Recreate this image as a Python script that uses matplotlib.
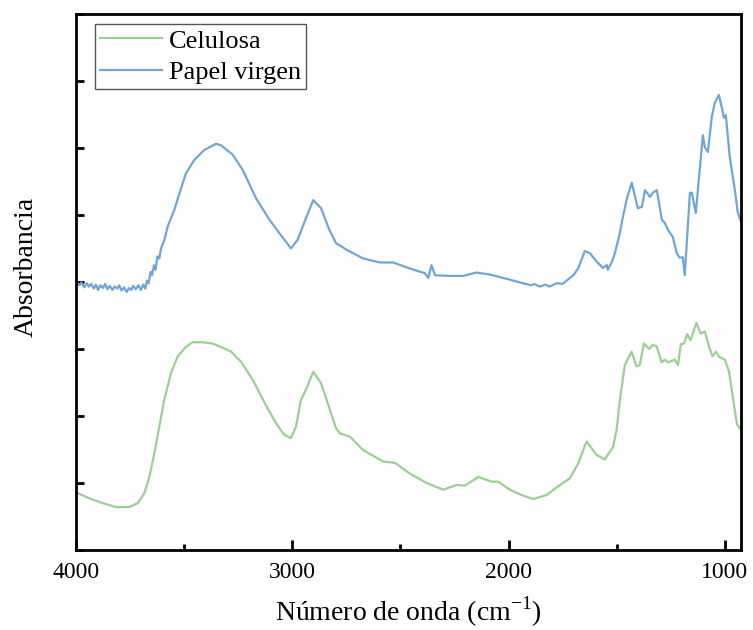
import matplotlib
matplotlib.use("Agg")
import matplotlib.pyplot as plt
from matplotlib.ticker import MultipleLocator

# FTIR spectra (wavenumber in cm^-1, absorbance in arbitrary offset units)
celulosa_wn = [4000, 3938, 3877, 3815, 3754, 3715, 3684, 3661, 3638, 3615, 3592,
               3561, 3530, 3492, 3461, 3414, 3368, 3330, 3283, 3237, 3183, 3122,
               3075, 3037, 3006, 2983, 2960, 2937, 2903, 2867, 2836, 2798, 2780,
               2733, 2672, 2579, 2525, 2456, 2379, 2302, 2240, 2202, 2140, 2078,
               2048, 1994, 1940, 1886, 1824, 1762, 1716, 1678, 1639, 1593, 1555,
               1516, 1500, 1485, 1462, 1431, 1408, 1393, 1374, 1349, 1334, 1315,
               1292, 1277, 1262, 1231, 1216, 1203, 1188, 1174, 1158, 1131, 1111,
               1092, 1072, 1057, 1041, 1026, 1000, 980, 961, 943, 925]
celulosa_abs = [0.86, 0.77, 0.70, 0.64, 0.64, 0.70, 0.85, 1.09, 1.44, 1.84, 2.24,
                2.64, 2.89, 3.03, 3.10, 3.10, 3.08, 3.03, 2.96, 2.81, 2.54, 2.16,
                1.89, 1.72, 1.67, 1.84, 2.24, 2.39, 2.66, 2.49, 2.19, 1.82, 1.74,
                1.69, 1.49, 1.32, 1.30, 1.14, 1.00, 0.90, 0.97, 0.96, 1.09, 1.02,
                1.02, 0.90, 0.82, 0.76, 0.82, 0.97, 1.07, 1.29, 1.62, 1.42, 1.35,
                1.54, 1.80, 2.24, 2.76, 2.96, 2.74, 2.76, 3.08, 3.00, 3.06, 3.04,
                2.80, 2.84, 2.80, 2.84, 2.76, 3.07, 3.08, 3.22, 3.13, 3.39, 3.23,
                3.26, 3.03, 2.89, 2.96, 2.88, 2.84, 2.66, 2.24, 1.87, 1.80]

papel_wn = [4000, 3985, 3975, 3962, 3950, 3940, 3930, 3918, 3908, 3898, 3888,
            3876, 3866, 3855, 3845, 3832, 3822, 3810, 3800, 3790, 3778, 3766,
            3755, 3745, 3735, 3724, 3712, 3700, 3690, 3680, 3672, 3665, 3655,
            3648, 3640, 3632, 3624, 3615, 3607, 3592, 3576, 3546, 3522, 3492,
            3453, 3407, 3353, 3330, 3276, 3229, 3168, 3106, 3060, 3006, 2975,
            2937, 2903, 2867, 2829, 2798, 2749, 2672, 2595, 2533, 2456, 2387,
            2371, 2356, 2340, 2271, 2210, 2148, 2086, 2025, 1932, 1895, 1880,
            1855, 1830, 1810, 1778, 1750, 1716, 1700, 1678, 1647, 1624, 1591,
            1564, 1545, 1541, 1522, 1508, 1485, 1471, 1452, 1430, 1402, 1383,
            1369, 1346, 1333, 1314, 1291, 1277, 1263, 1240, 1222, 1208, 1194,
            1185, 1161, 1152, 1134, 1101, 1092, 1078, 1060, 1046, 1027, 1014,
            1004, 995, 977, 953, 940, 925]
papel_abs = [4.00, 3.95, 3.99, 3.92, 3.98, 3.93, 3.97, 3.90, 3.96, 3.88, 3.95,
             3.91, 3.97, 3.89, 3.94, 3.88, 3.93, 3.90, 3.95, 3.87, 3.92, 3.85,
             3.91, 3.88, 3.94, 3.89, 3.95, 3.88, 3.96, 3.90, 4.02, 3.98, 4.15,
             4.10, 4.25, 4.18, 4.38, 4.35, 4.50, 4.62, 4.83, 5.07, 5.32, 5.62,
             5.82, 5.97, 6.06, 6.04, 5.90, 5.67, 5.25, 4.93, 4.73, 4.50, 4.63,
             4.95, 5.22, 5.10, 4.78, 4.58, 4.48, 4.35, 4.29, 4.29, 4.20, 4.13,
             4.06, 4.25, 4.10, 4.09, 4.09, 4.14, 4.11, 4.06, 3.98, 3.95, 3.97,
             3.93, 3.96, 3.93, 3.98, 3.97, 4.06, 4.10, 4.20, 4.46, 4.43, 4.30,
             4.21, 4.25, 4.18, 4.30, 4.43, 4.73, 4.97, 5.25, 5.48, 5.10, 5.12,
             5.37, 5.27, 5.33, 5.37, 4.93, 4.88, 4.78, 4.67, 4.43, 4.36, 4.37,
             4.10, 5.33, 5.33, 5.03, 6.19, 6.01, 5.94, 6.46, 6.67, 6.79, 6.61,
             6.45, 6.49, 5.87, 5.37, 5.04, 4.90]

series_labels = ["Celulosa", "Papel virgen"]
x_ticks = [4000, 3000, 2000, 1000]

plt.rcParams["font.family"] = ["Liberation Serif", "DejaVu Serif"]
plt.rcParams["mathtext.fontset"] = "custom"
plt.rcParams["mathtext.rm"] = "Liberation Serif"

fig = plt.figure(figsize=(7.53, 6.30), dpi=100)
ax = fig.add_axes([0.101, 0.127, 0.883, 0.851])

ax.plot(celulosa_wn, celulosa_abs, color="#9ccf94", lw=1.6, label=series_labels[0])
ax.plot(papel_wn, papel_abs, color="#6fa6d6", lw=1.6, label=series_labels[1])

ax.set_xlim(4000, 925)
ax.set_ylim(0, 8)
ax.set_xticks(x_ticks)
ax.xaxis.set_minor_locator(MultipleLocator(500))
ax.yaxis.set_major_locator(MultipleLocator(1))
ax.set_yticklabels([])

for s in ax.spines.values():
    s.set_linewidth(2.0)

ax.tick_params(axis="x", which="major", direction="in", length=7, width=2,
               labelsize=17, pad=9)
ax.tick_params(axis="x", which="minor", direction="in", length=4, width=2)
ax.tick_params(axis="y", which="major", direction="in", length=6, width=2)

ax.set_xlabel(r"Número de onda (cm$^{\mathregular{-1}}$)", fontsize=20, labelpad=8)
ax.set_ylabel("Absorbancia", fontsize=20)
ax.yaxis.set_label_coords(-0.056, 0.528)

leg = ax.legend(loc="upper left", bbox_to_anchor=(0.0286, 0.9813),
                borderaxespad=0, fontsize=19, handlelength=2.35,
                fancybox=False, framealpha=1, edgecolor="#555555",
                borderpad=0.2, labelspacing=0.3, handletextpad=0.25)
leg.get_frame().set_linewidth(1.0)

fig.savefig("out.png", dpi=100)
